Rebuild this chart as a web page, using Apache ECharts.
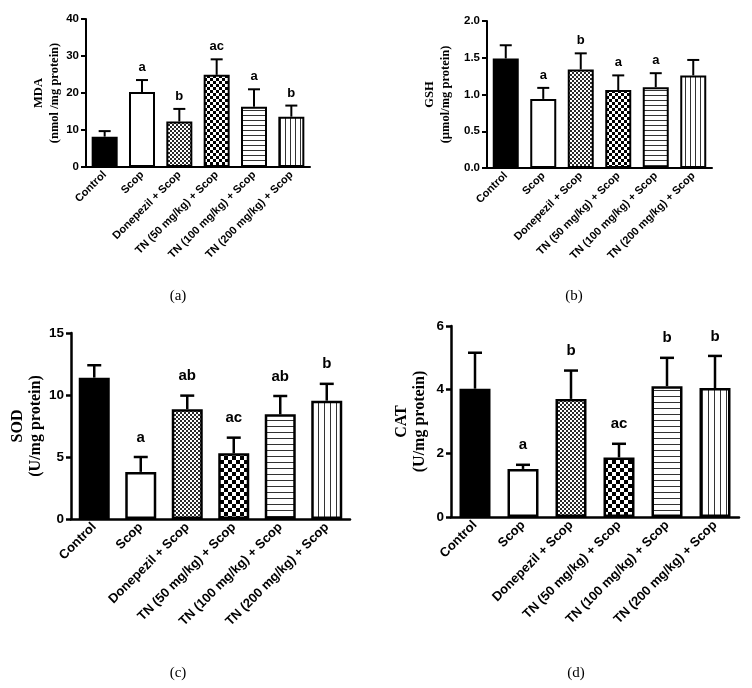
<!DOCTYPE html>
<html>
<head>
<meta charset="utf-8">
<script src="https://cdn.jsdelivr.net/npm/echarts@6/dist/echarts.min.js"></script>
<style>
html,body{margin:0;padding:0;background:#fff;}
#chart{width:752px;height:688px;}
</style>
</head>
<body>
<div id="chart"></div>
<script>
// ---- data ----
const categories = ['Control', 'Scop', 'Donepezil + Scop', 'TN (50 mg/kg) + Scop', 'TN (100 mg/kg) + Scop', 'TN (200 mg/kg) + Scop'];

const mdaMean = [8.2, 20.3, 12.3, 24.9, 16.3, 13.6];
const mdaErr = [1.5, 3.2, 3.4, 4.2, 4.7, 3.0];
const mdaLetters = ['', 'a', 'b', 'ac', 'a', 'b'];

const gshMean = [1.49, 0.94, 1.34, 1.06, 1.10, 1.26];
const gshErr = [0.18, 0.15, 0.22, 0.20, 0.19, 0.21];
const gshLetters = ['', 'a', 'b', 'a', 'a', ''];

const sodMean = [11.4, 3.8, 8.85, 5.3, 8.44, 9.54];
const sodErr = [1.0, 1.2, 1.1, 1.26, 1.48, 1.36];
const sodLetters = ['', 'a', 'ab', 'ac', 'ab', 'b'];

const catMean = [4.03, 1.51, 3.71, 1.87, 4.11, 4.05];
const catErr = [1.13, 0.13, 0.89, 0.43, 0.89, 1.01];
const catLetters = ['', 'a', 'b', 'ac', 'b', 'b'];

const mdaTicks = {max: 40, interval: 10};
const gshTicks = {max: 2, interval: 0.5};
const sodTicks = {max: 15, interval: 5};
const catTicks = {max: 6, interval: 2};

// ---- patterns ----
function cv(w, h, draw) {
  const c = document.createElement('canvas');
  c.width = w; c.height = h;
  const g = c.getContext('2d');
  g.fillStyle = '#fff'; g.fillRect(0, 0, w, h);
  draw(g);
  return c;
}
function checker(s, col) {
  return cv(2 * s, 2 * s, g => { g.fillStyle = col; g.fillRect(0, 0, s, s); g.fillRect(s, s, s, s); });
}
function hLines(p) {
  return cv(4, p, g => { g.fillStyle = '#333'; g.fillRect(0, 0, 4, 1); });
}
function vLines(p) {
  return cv(p, 4, g => { g.fillStyle = '#333'; g.fillRect(0, 0, 1, 4); });
}
function patterns(big) {
  return [
    '#000',
    '#fff',
    {image: checker(2, '#2a2a2a'), repeat: 'repeat'},
    {image: checker(big ? 4 : 3, '#000'), repeat: 'repeat'},
    {image: hLines(big ? 6 : 5), repeat: 'repeat'},
    {image: vLines(big ? 6 : 5), repeat: 'repeat'}
  ];
}

const SANS = 'Arial, "Liberation Sans", sans-serif';
const SERIF = '"Times New Roman", "Liberation Serif", serif';

const panels = [
  {mean: mdaMean, err: mdaErr, letters: mdaLetters, ticks: mdaTicks, name: 'MDA\n(nmol /mg protein)', dec: 0,
   grid: {left: 86, top: 19, width: 224, height: 148}, big: false, nameGap: 20},
  {mean: gshMean, err: gshErr, letters: gshLetters, ticks: gshTicks, name: 'GSH\n(µmol/mg protein)', dec: 1,
   grid: {left: 487, top: 21, width: 225, height: 147}, big: false, nameGap: 33},
  {mean: sodMean, err: sodErr, letters: sodLetters, ticks: sodTicks, name: 'SOD\n(U/mg protein)', dec: 0,
   grid: {left: 71, top: 333, width: 279, height: 186}, big: true, nameGap: 24},
  {mean: catMean, err: catErr, letters: catLetters, ticks: catTicks, name: 'CAT\n(U/mg protein)', dec: 0,
   grid: {left: 451, top: 326, width: 288, height: 191}, big: true, nameGap: 22}
];

const grids = [], xAxes = [], yAxes = [], series = [];
panels.forEach((p, k) => {
  const big = p.big;
  const lw = big ? 2.5 : 2;
  grids.push(p.grid);
  xAxes.push({
    type: 'category', gridIndex: k, data: categories,
    axisLine: {lineStyle: {color: '#000', width: lw}},
    axisTick: {alignWithLabel: true, length: 5, lineStyle: {color: '#000', width: lw}},
    axisLabel: {rotate: 45, interval: 0, margin: 6, color: '#000', fontFamily: SANS, fontWeight: 'bold', fontSize: big ? 13 : 11}
  });
  yAxes.push({
    type: 'value', gridIndex: k, min: 0, max: p.ticks.max, interval: p.ticks.interval,
    splitLine: {show: false},
    axisLine: {show: true, lineStyle: {color: '#000', width: lw}},
    axisTick: {show: true, length: 5, lineStyle: {color: '#000', width: lw}},
    axisLabel: {margin: 7, color: '#000', fontFamily: SANS, fontWeight: 'bold', fontSize: big ? 13.5 : 11.5,
      formatter: v => v.toFixed(p.dec)},
    name: p.name, nameLocation: 'middle', nameRotate: 90, nameGap: p.nameGap,
    nameTextStyle: {color: '#000', fontFamily: SERIF, fontWeight: 'bold', fontSize: big ? 16 : 12.5, lineHeight: big ? 18 : 16}
  });
  const fills = patterns(big);
  series.push({
    type: 'bar', xAxisIndex: k, yAxisIndex: k, barWidth: big ? 31 : 26,
    data: p.mean.map((v, i) => ({value: v, itemStyle: {color: fills[i], borderColor: '#000', borderWidth: lw}})),
    animation: false, z: 2
  });
  const cap = big ? 7 : 6;
  const fs = big ? 15 : 13;
  const gap = big ? 12 : 6;
  series.push({
    type: 'custom', xAxisIndex: k, yAxisIndex: k, z: 3, animation: false,
    data: p.mean.map((v, i) => [i, v, v + p.err[i]]),
    renderItem: (params, api) => {
      const base = api.coord([api.value(0), api.value(1)]);
      const top = api.coord([api.value(0), api.value(2)]);
      const st = {stroke: '#000', lineWidth: lw};
      const ch = [
        {type: 'line', shape: {x1: base[0], y1: base[1], x2: top[0], y2: top[1]}, style: st},
        {type: 'line', shape: {x1: top[0] - cap, y1: top[1], x2: top[0] + cap, y2: top[1]}, style: st}
      ];
      const t = p.letters[params.dataIndex];
      if (t) {
        ch.push({type: 'text', style: {text: t, x: top[0], y: top[1] - gap, align: 'center', verticalAlign: 'bottom',
          fill: '#000', font: 'bold ' + fs + 'px ' + SANS}});
      }
      return {type: 'group', children: ch};
    }
  });
});

const captionStyle = {fill: '#000', font: '15px ' + SERIF, align: 'center', verticalAlign: 'middle'};
const graphic = [
  {type: 'text', x: 178, y: 296, style: Object.assign({text: '(a)'}, captionStyle)},
  {type: 'text', x: 574, y: 296, style: Object.assign({text: '(b)'}, captionStyle)},
  {type: 'text', x: 178, y: 673, style: Object.assign({text: '(c)'}, captionStyle)},
  {type: 'text', x: 576, y: 673, style: Object.assign({text: '(d)'}, captionStyle)}
];

const chart = echarts.init(document.getElementById('chart'), null, {renderer: 'canvas'});
chart.setOption({
  animation: false,
  backgroundColor: '#fff',
  grid: grids, xAxis: xAxes, yAxis: yAxes, series: series, graphic: graphic
});
</script>
</body>
</html>
